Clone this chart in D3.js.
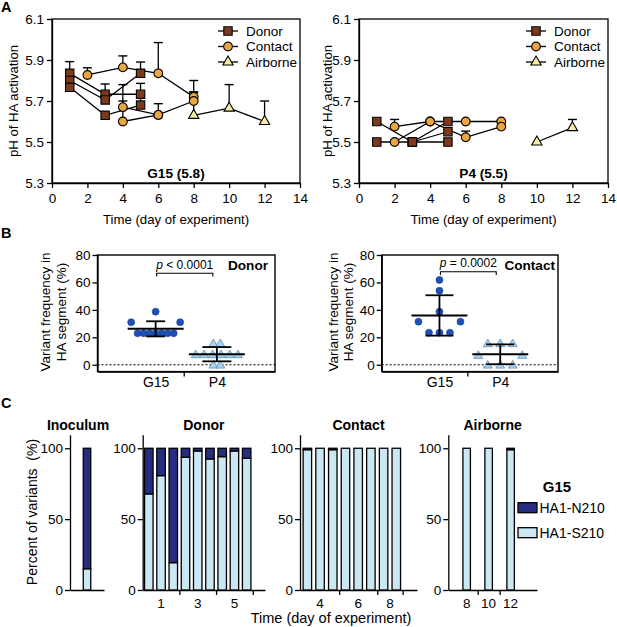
<!DOCTYPE html>
<html><head><meta charset="utf-8">
<script src="https://cdn.jsdelivr.net/npm/d3@7"></script>
<style>
body{margin:0;background:#fff;}
svg{font-family:Arial,"Liberation Sans",Helvetica,sans-serif;}
</style>
</head><body>
<svg id="chart" width="617" height="627"></svg>
<script>
// ---------------- DATA ----------------
// Panel A: pH of HA activation; each animal = list of [day, pH, upper SD]
const aXTicks = [0, 2, 4, 6, 8, 10, 12, 14];
const aYTicks = [5.3, 5.5, 5.7, 5.9, 6.1];
const aSeries = ["Donor", "Contact", "Airborne"];
const g15Donor = [
  [[1, 5.835, 0.057], [3, 5.733, 0.05], [5, 5.733, 0.053]],
  [[1, 5.80, 0], [3, 5.705, 0.02], [5, 5.835, 0.055]],
  [[1, 5.767, 0], [3, 5.63, 0], [5, 5.68, 0.05]]
];
const g15Contact = [
  [[2, 5.827, 0.035], [4, 5.864, 0.056], [6, 5.835, 0.15], [8, 5.72, 0.08]],
  [[4, 5.67, 0.11], [6, 5.632, 0.055], [8, 5.70, 0.045]],
  [[4, 5.60, 0.10], [6, 5.632, 0]]
];
const g15Airborne = [
  [[8, 5.63, 0.11], [10, 5.665, 0.115], [12, 5.60, 0.10]]
];
const p4Donor = [
  [[1, 5.60, 0], [3, 5.50, 0], [5, 5.60, 0.01]],
  [[1, 5.50, 0], [3, 5.50, 0], [5, 5.50, 0]],
  [[3, 5.50, 0], [5, 5.55, 0]]
];
const p4Contact = [
  [[2, 5.575, 0.035], [4, 5.60, 0], [6, 5.60, 0], [8, 5.60, 0.005]],
  [[2, 5.50, 0], [4, 5.60, 0], [6, 5.523, 0.03], [8, 5.575, 0]]
];
const p4Airborne = [
  [[10, 5.50, 0], [12, 5.57, 0.04]]
];

// Panel B: variant frequency in HA segment (%)
const bGroups = ["G15", "P4"];
const bYTicks = [0, 20, 40, 60, 80];
const bDonorG15 = [38.7, 31, 31, 23, 23, 23, 23, 23, 23, 23];
const bDonorP4 = [15.6, 15.6, 7.6, 7.6, 7.6, 7.6, 7.6, 7.6, 0, 0];
const bContactG15 = [61.8, 54, 38.7, 31.4, 31.4, 23.4, 23.4, 23.4];
const bContactP4 = [15.6, 15.6, 15.6, 7.1, 7.1, 0, 0, 0];
const bPValues = ["< 0.0001", "= 0.0002"];

// Panel C: percent of variants (HA1-S210 share; HA1-N210 = 100 - S210)
const cYTicks = [0, 50, 100];
const cVariants = ["HA1-N210", "HA1-S210"];
const cInoculumS210 = [[15]];
const cDonorDays = [1, 3, 5];
const cDonorS210 = [[67.8, 80.7, 19.3], [93.6, 98.1, 92.5], [94.1, 98.1, 92.9]];
const cContactDays = [4, 6, 8];
const cContactS210 = [[99, 100, 99], [100, 100, 100], [100, 100]];
const cAirborneDays = [8, 10, 12];
const cAirborneS210 = [100, 100, 99];

// ---------------- DRAWING ----------------
const FONT = 'Arial, "Liberation Sans", Helvetica, sans-serif';
const svg = d3.select("#chart");

function txt(g, x, y, s, o = {}) {
  const t = g.append("text").attr("x", x).attr("y", y).text(s)
    .attr("font-size", o.size || 13.5)
    .attr("font-weight", o.bold ? "bold" : null)
    .attr("text-anchor", o.anchor || "start")
    .attr("fill", "#000");
  if (o.rotate) t.attr("transform", `rotate(-90,${x},${y})`);
  return t;
}
function styleAxis(g, size = 13.5) {
  g.attr("font-family", FONT).attr("font-size", size);
  g.selectAll("path,line").attr("stroke", "#000").attr("stroke-width", 1.3);
  g.selectAll("text").attr("fill", "#000");
}

// Panel letters
txt(svg, 1, 12, "A", { bold: true, size: 14.5 });
txt(svg, 1, 238, "B", { bold: true, size: 14.5 });
txt(svg, 1, 408, "C", { bold: true, size: 14.5 });

// ---- Panel A ----
const aColors = { Donor: "#7b3a1d", Contact: "#eca63f", Airborne: "#f7eda3" };
const aSymbols = { Donor: d3.symbolSquare, Contact: d3.symbolCircle, Airborne: d3.symbolTriangle };
const aSizes = { Donor: 70, Contact: 60, Airborne: 46 };
function marker(g, type, cx, cy) {
  g.append("path").attr("d", d3.symbol(aSymbols[type], aSizes[type])())
    .attr("transform", `translate(${cx},${cy})`)
    .attr("fill", aColors[type]).attr("stroke", "#000").attr("stroke-width", 1.1);
}

function panelA(cfg) {
  const { x0, x1, label, sets, titleX, legX } = cfg;
  const x = d3.scaleLinear().domain([0, 14]).range([x0, x1]);
  const y = d3.scaleLinear().domain([5.3, 6.1]).range([183, 19]);
  const g = svg.append("g");
  g.append("rect").attr("x", x0).attr("y", y(6.1)).attr("width", x1 - x0)
    .attr("height", y(5.3) - y(6.1)).attr("fill", "none")
    .attr("stroke", "#000").attr("stroke-width", 1.3);
  g.append("g").attr("transform", `translate(0,${y(5.3)})`)
    .call(d3.axisBottom(x).tickValues(aXTicks).tickSize(5).tickSizeOuter(0).tickPadding(5))
    .call(styleAxis);
  g.append("g").attr("transform", `translate(${x0},0)`)
    .call(d3.axisLeft(y).tickValues(aYTicks).tickFormat(d3.format(".1f")).tickSize(5).tickSizeOuter(0).tickPadding(3))
    .call(styleAxis);
  txt(g, titleX, (y(5.3) + y(6.1)) / 2, "pH of HA activation", { rotate: true, anchor: "middle", size: 13.2 }).attr("dy", "0.35em");
  txt(g, (x0 + x1) / 2, 224, "Time (day of experiment)", { anchor: "middle", size: 13.2 });
  txt(g, (x0 + x1) / 2, 178, label, { anchor: "middle", bold: true, size: 13.6 });

  const line = d3.line().x(d => x(d[0])).y(d => y(d[1]));
  sets.forEach(([name, animals]) => animals.forEach(a =>
    g.append("path").attr("d", line(a)).attr("fill", "none")
      .attr("stroke", "#000").attr("stroke-width", 1.3)));
  sets.forEach(([name, animals]) => animals.flat().filter(p => p[2] > 0).forEach(p => {
    g.append("line").attr("x1", x(p[0])).attr("x2", x(p[0]))
      .attr("y1", y(p[1])).attr("y2", y(p[1] + p[2])).attr("stroke", "#000").attr("stroke-width", 1.3);
    g.append("line").attr("x1", x(p[0]) - 4.5).attr("x2", x(p[0]) + 4.5)
      .attr("y1", y(p[1] + p[2])).attr("y2", y(p[1] + p[2])).attr("stroke", "#000").attr("stroke-width", 1.4);
  }));
  sets.forEach(([name, animals]) => animals.flat().forEach(p => marker(g, name, x(p[0]), y(p[1]))));

  // legend
  const ly = d3.scalePoint().domain(aSeries).range([31, 62]);
  aSeries.forEach(s => {
    g.append("line").attr("x1", legX - 10).attr("x2", legX + 10).attr("y1", ly(s)).attr("y2", ly(s))
      .attr("stroke", "#000").attr("stroke-width", 1.3);
    marker(g, s, legX, ly(s));
    txt(g, legX + 18, ly(s), s, { size: 13.5 }).attr("dy", "0.36em");
  });
}
panelA({ x0: 52, x1: 300, label: "G15 (5.8)", titleX: 13, legX: 228,
  sets: [["Donor", g15Donor], ["Contact", g15Contact], ["Airborne", g15Airborne]] });
panelA({ x0: 359, x1: 608, label: "P4 (5.5)", titleX: 327, legX: 536,
  sets: [["Donor", p4Donor], ["Contact", p4Contact], ["Airborne", p4Airborne]] });

// ---- Panel B ----
function swarm(values, lay) {
  const groups = d3.group(values, v => v);
  const out = [];
  for (const [v, arr] of groups) {
    const n = arr.length;
    const sp = n === 2 ? lay.pair * 2 : n === 3 ? lay.triple : lay.many;
    arr.forEach((d, j) => out.push({ v, dx: (j - (n - 1) / 2) * sp }));
  }
  return out;
}
function panelB(cfg) {
  const { x0, x1, g15, p4, pv, name, nameX, t1, t2, caps, lays, by } = cfg;
  const x = d3.scalePoint().domain(bGroups).range([x0, x1]).padding(0.95);
  const y = d3.scaleLinear().domain([-5, 80]).range([371.6, 255]);
  const g = svg.append("g");
  g.append("rect").attr("x", x0).attr("y", y(80)).attr("width", x1 - x0)
    .attr("height", y(-5) - y(80)).attr("fill", "none").attr("stroke", "#000").attr("stroke-width", 1.4);
  g.append("g").attr("transform", `translate(${x0},0)`)
    .call(d3.axisLeft(y).tickValues(bYTicks).tickSize(5).tickSizeOuter(0).tickPadding(2))
    .call(styleAxis);
  g.append("g").attr("transform", `translate(0,${y(-5)})`)
    .call(d3.axisBottom(x).tickSizeInner(0).tickSizeOuter(0).tickPadding(5))
    .call(styleAxis, 14);
  const mid = (x("G15") + x("P4")) / 2;
  g.append("line").attr("x1", mid - 2).attr("x2", mid - 2).attr("y1", y(-5)).attr("y2", y(-5) + 5)
    .attr("stroke", "#000").attr("stroke-width", 1.3);
  // zero line
  g.append("line").attr("x1", x0).attr("x2", x1).attr("y1", y(0)).attr("y2", y(0))
    .attr("stroke", "#000").attr("stroke-width", 1.2).attr("stroke-dasharray", "2,2");
  // axis title
  txt(g, t1, 312, "Variant frequency in", { rotate: true, anchor: "middle", size: 13.5 }).attr("dy", "0.35em");
  txt(g, t2, 312, "HA segment (%)", { rotate: true, anchor: "middle", size: 13.5 }).attr("dy", "0.35em");
  // points
  swarm(g15, lays[0]).forEach(p =>
    g.append("circle").attr("cx", x("G15") + p.dx).attr("cy", y(p.v)).attr("r", 3.5)
      .attr("fill", "#1d4fb6").attr("stroke", "#173f95").attr("stroke-width", 0.6));
  const tri = d3.symbol(d3.symbolTriangle, 34)();
  swarm(p4, lays[1]).forEach(p =>
    g.append("path").attr("d", tri).attr("transform", `translate(${x("P4") + p.dx},${y(p.v) + 0.8})`)
      .attr("fill", "#a9d2eb").attr("stroke", "#5c8fb8").attr("stroke-width", 0.8));
  // mean and SD
  [[g15, "G15", caps[0]], [p4, "P4", caps[1]]].forEach(([vals, k, cw]) => {
    const m = d3.mean(vals), s = d3.deviation(vals), cx = x(k);
    const L = (a, b, c, d, w) => g.append("line").attr("x1", a).attr("x2", b).attr("y1", c).attr("y2", d)
      .attr("stroke", "#000").attr("stroke-width", w);
    L(cx, cx, y(m - s), y(m + s), 1.8);
    L(cx - 28, cx + 28, y(m), y(m), 2);
    L(cx - cw / 2, cx + cw / 2, y(m + s), y(m + s), 1.8);
    L(cx - cw / 2, cx + cw / 2, y(m - s), y(m - s), 1.8);
  });
  // p bracket
  const bx1 = x("G15") + 1, bx2 = x("P4") - 4;
  g.append("path").attr("d", `M${bx1},${by + 3.3}V${by}H${bx2}V${by + 3.3}`)
    .attr("fill", "none").attr("stroke", "#000").attr("stroke-width", 1.1);
  const pt = g.append("text").attr("x", (bx1 + bx2) / 2).attr("y", by - 4.5)
    .attr("text-anchor", "middle").attr("font-size", 12).attr("fill", "#000");
  pt.append("tspan").attr("font-style", "italic").text("p");
  pt.append("tspan").text(" " + pv);
  txt(g, nameX, 270, name, { bold: true, anchor: "end", size: 13.6 });
}
panelB({ x0: 97.5, x1: 275, g15: bDonorG15, p4: bDonorP4, pv: bPValues[0], name: "Donor", nameX: 268,
  t1: 45, t2: 61, caps: [19, 29], by: 273.3,
  lays: [{ pair: 24.5, triple: 10, many: 6 }, { pair: 3.5, triple: 10, many: 8.5 }] });
panelB({ x0: 381.7, x1: 558, g15: bContactG15, p4: bContactP4, pv: bPValues[1], name: "Contact", nameX: 555,
  t1: 333, t2: 348, caps: [28, 28], by: 271.7,
  lays: [{ pair: 21, triple: 10.5, many: 7 }, { pair: 22, triple: 12.5, many: 7 }] });

// ---- Panel C ----
const yC = d3.scaleLinear().domain([0, 109.5]).range([590, 434.8]);
const cColors = { "HA1-N210": "#262c7f", "HA1-S210": "#cbe7f3" };
function drawBar(g, cx, bw, s) {
  g.append("rect").attr("x", cx - bw / 2).attr("y", yC(s)).attr("width", bw)
    .attr("height", yC(0) - yC(s)).attr("fill", cColors["HA1-S210"]).attr("stroke", "#000").attr("stroke-width", 1.3);
  if (s < 100)
    g.append("rect").attr("x", cx - bw / 2).attr("y", yC(100)).attr("width", bw)
      .attr("height", yC(s) - yC(100)).attr("fill", cColors["HA1-N210"]).attr("stroke", "#000").attr("stroke-width", 1.3);
}
function cPanel(cfg) {
  const { x, ticks, labels, title, titleX, bars, bw } = cfg;
  const g = svg.append("g");
  const [x0] = x.range();
  g.append("g").attr("transform", `translate(${x0},0)`)
    .call(d3.axisLeft(yC).tickValues(cYTicks).tickSize(5).tickSizeOuter(0).tickPadding(2))
    .call(styleAxis);
  g.append("g").attr("transform", `translate(0,${yC(0)})`)
    .call(d3.axisBottom(x).tickValues(ticks).tickFormat("").tickSize(5).tickSizeOuter(0))
    .call(styleAxis);
  labels.forEach(([v, t]) => txt(g, x(v), 607.5, t, { anchor: "middle", size: 13.5 }));
  bars.forEach(([v, s]) => drawBar(g, x(v), bw, s));
  txt(g, titleX != null ? titleX : d3.mean(x.range()), 430, title, { anchor: "middle", bold: true, size: 14 });
}
// grouped bars: slot positions computed from group sizes
function groupedLayout(days, vals) {
  const sizes = vals.map(v => v.length);
  const starts = d3.cumsum([0, ...sizes]);
  const bars = [], ticks = [], labels = [];
  vals.forEach((grp, gi) => {
    grp.forEach((s, i) => bars.push([starts[gi] + i + 0.5, s]));
    ticks.push(starts[gi] + sizes[gi]);
    if (days) labels.push([starts[gi] + sizes[gi] / 2, String(days[gi])]);
  });
  return { bars, ticks, labels };
}
{
  const L = groupedLayout(null, cInoculumS210);
  cPanel({ x: d3.scaleLinear().domain([-0.9, 1.9]).range([70, 104]), ticks: [], labels: [],
    title: "Inoculum", titleX: 78, bars: L.bars, bw: 7.5 });
}
{
  const L = groupedLayout(cDonorDays, cDonorS210);
  cPanel({ x: d3.scaleLinear().domain([0, 10]).range([142.7, 265]), ticks: L.ticks, labels: L.labels,
    title: "Donor", bars: L.bars, bw: 8.5 });
}
{
  const L = groupedLayout(cContactDays, cContactS210);
  cPanel({ x: d3.scaleLinear().domain([-0.08, 9.13]).range([300, 417]), ticks: L.ticks, labels: L.labels,
    title: "Contact", bars: L.bars, bw: 8.5 });
}
{
  const x = d3.scaleLinear().domain([6.33, 14.4]).range([448.3, 537]);
  const ticks = d3.pairs(cAirborneDays).map(([a, b]) => (a + b) / 2);
  cPanel({ x, ticks, labels: cAirborneDays.map(d => [d, String(d)]),
    title: "Airborne", bars: cAirborneDays.map((d, i) => [d, cAirborneS210[i]]), bw: 7.5 });
}
// C axis titles
txt(svg, 32, 512, "Percent of variants  (%)", { rotate: true, anchor: "middle", size: 14 })
  .attr("dy", "0.35em").style("white-space", "pre");
txt(svg, 331, 622.5, "Time (day of experiment)", { anchor: "middle", size: 14.5 });
// C legend
txt(svg, 557, 491.7, "G15", { anchor: "middle", bold: true, size: 15 });
cVariants.forEach((v, i) => {
  const yy = 502.7 + i * 25;
  svg.append("rect").attr("x", 518).attr("y", yy).attr("width", 19).attr("height", 10)
    .attr("fill", cColors[v]).attr("stroke", "#000").attr("stroke-width", 1.3);
  txt(svg, 539.5, yy + 5, v, { size: 14 }).attr("dy", "0.36em");
});
</script>
</body></html>
